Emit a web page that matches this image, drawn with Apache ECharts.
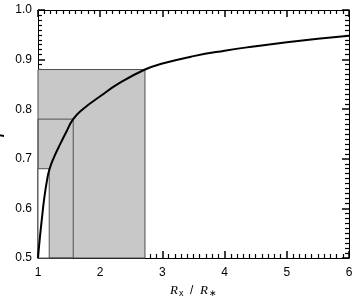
<!DOCTYPE html>
<html>
<head>
<meta charset="utf-8">
<script src="https://cdn.jsdelivr.net/npm/echarts@6/dist/echarts.min.js"></script>
<style>html,body{margin:0;padding:0;background:#fff}#c{width:353px;height:296px}</style>
</head>
<body>
<div id="c"></div>
<script>
// curve
var curveX = [1.00, 1.03, 1.064, 1.10, 1.14, 1.18, 1.26, 1.37, 1.45, 1.566, 1.72, 2.00, 2.30, 2.72, 3.00, 3.50, 4.00, 4.50, 5.00, 5.50, 6.00];
var curveY = [0.50, 0.541, 0.581, 0.620, 0.653, 0.677, 0.704, 0.733, 0.753, 0.78, 0.80, 0.826, 0.852, 0.88, 0.892, 0.907, 0.918, 0.927, 0.935, 0.942, 0.948];
// boxes (corner on the curve), from outer to inner
var boxX = [2.72, 1.566, 1.18];
var boxY = [0.88, 0.78, 0.68];
var boxFill = ['#c8c8c8', 'rgba(0,0,0,0)', '#ffffff'];
var xTicks = [1, 2, 3, 4, 5, 6];
var yTicks = [0.5, 0.6, 0.7, 0.8, 0.9, 1.0];

var chart = echarts.init(document.getElementById('c'));
var font = 'Liberation Sans, Arial, sans-serif';
function axisCommon() {
  return {
    axisLine: {show: true, lineStyle: {color: '#000', width: 1}},
    axisTick: {show: true, inside: true, length: 7, lineStyle: {color: '#000', width: 1.5}},
    minorTick: {show: true, splitNumber: 10, length: 4, lineStyle: {color: '#000', width: 1.2}},
    splitLine: {show: false},
    minorSplitLine: {show: false}
  };
}
var curve = curveX.map(function (x, i) { return [x, curveY[i]]; });
var areas = boxX.map(function (x, i) {
  return [{coord: [1, 0.5], itemStyle: {color: boxFill[i], borderColor: '#505050', borderWidth: 1}}, {coord: [x, boxY[i]]}];
});
chart.setOption({
  animation: false,
  grid: {left: 38, right: 4, top: 10, bottom: 38, outerBoundsMode: 'none'},
  xAxis: [
    Object.assign({type: 'value', min: xTicks[0], max: xTicks[xTicks.length - 1], interval: 1, position: 'bottom',
      axisLabel: {show: true, color: '#000', fontSize: 12, fontFamily: font, margin: 9},
      name: '{i|R}{s|x}{n|  /  }{i|R}{s|∗}', nameLocation: 'middle', nameGap: 25,
      nameTextStyle: {rich: {
        i: {fontStyle: 'italic', fontSize: 13, fontFamily: 'Liberation Serif, serif', color: '#000'},
        s: {fontSize: 9, fontFamily: font, color: '#000', verticalAlign: 'bottom', padding: [6, 0, 0, 1]},
        n: {fontSize: 12, fontFamily: font, color: '#000'}
      }}
    }, axisCommon()),
    Object.assign({type: 'value', min: 1, max: 6, interval: 1, position: 'top', axisLabel: {show: false}}, axisCommon())
  ],
  yAxis: [
    Object.assign({type: 'value', min: yTicks[0], max: yTicks[yTicks.length - 1], interval: 0.1, position: 'left',
      axisLabel: {show: true, color: '#000', fontSize: 12, fontFamily: font, margin: 6,
        formatter: function (v) { return v.toFixed(1); }},
      name: 'f', nameLocation: 'middle', nameGap: 31, nameRotate: 90,
      nameTextStyle: {fontStyle: 'italic', fontSize: 24, fontFamily: 'Liberation Serif, serif', color: '#000'}
    }, axisCommon()),
    Object.assign({type: 'value', min: 0.5, max: 1.0, interval: 0.1, position: 'right', axisLabel: {show: false}}, axisCommon())
  ],
  series: [
    {type: 'line', data: [], silent: true, z: 1,
      markArea: {silent: true, data: areas}},
    {type: 'line', data: curve, showSymbol: false, smooth: 0.5, z: 3,
      lineStyle: {color: '#000', width: 2}}
  ]
});
</script>
</body>
</html>
